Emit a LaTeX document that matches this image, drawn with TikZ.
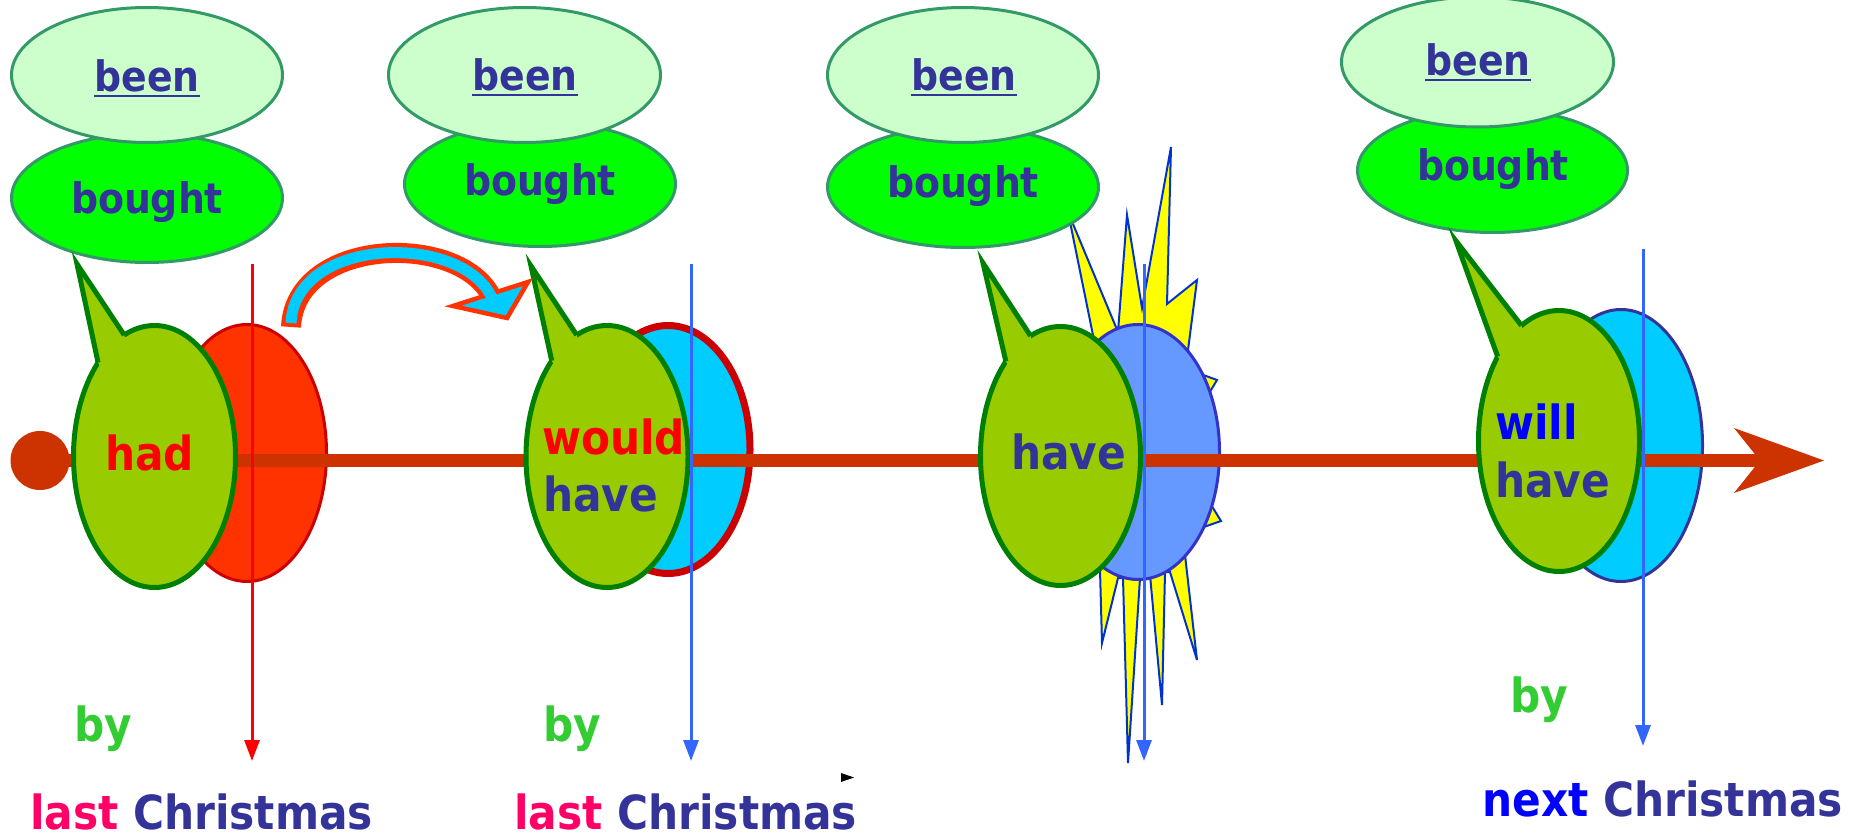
\documentclass[tikz,border=0pt]{standalone}
\usepackage{fontspec}
\usetikzlibrary{shapes.geometric,arrows.meta}
\newfontfamily\tah{DejaVu Sans Condensed Bold}
\definecolor{navy}{HTML}{333399}
\definecolor{sgreen}{HTML}{339966}
\definecolor{beenfill}{HTML}{CCFFCC}
\definecolor{boughtfill}{HTML}{00FF00}
\definecolor{bgreen}{HTML}{008000}
\definecolor{bfill}{HTML}{99CC00}
\definecolor{tlc}{HTML}{CC3300}
\definecolor{redfill}{HTML}{FF3300}
\definecolor{darkred}{HTML}{CC0000}
\definecolor{cyanfill}{HTML}{00CCFF}
\definecolor{bluefill}{HTML}{6699FF}
\definecolor{blueedge}{HTML}{3333CC}
\definecolor{vblue}{HTML}{3366FF}
\definecolor{starY}{HTML}{FFFF00}
\definecolor{starB}{HTML}{0033CC}
\definecolor{bygreen}{HTML}{33CC33}
\definecolor{lastpink}{HTML}{FF0066}
\definecolor{pureblue}{HTML}{0000FF}
\definecolor{purered}{HTML}{FF0000}
\tikzset{
  beenell/.style={ellipse, draw=sgreen, line width=3pt, fill=beenfill, inner sep=0pt, outer sep=0pt},
  boughtell/.style={ellipse, draw=sgreen, line width=3pt, fill=boughtfill, inner sep=0pt, outer sep=0pt},
  bubble/.style={ellipse, draw=bgreen, line width=5pt, fill=bfill, inner sep=0pt, outer sep=0pt, minimum width=162pt, minimum height=262pt},
  backell/.style={ellipse, inner sep=0pt, outer sep=0pt},
  bigtxt/.style={font=\tah\fontsize{47}{47}\selectfont, inner sep=0pt, anchor=base},
  smtxt/.style={font=\tah\fontsize{42}{42}\selectfont, inner sep=0pt, anchor=base, text=navy},
  vline/.style={line width=3pt, -{Triangle[length=21pt,width=15pt]}},
  ulined/.style={navy, line width=2.7pt},
  tailfill/.style={fill=bfill},
  tailline/.style={draw=bgreen, line width=5pt, line join=miter},
}
\newcommand\bubbletail[4]{%
  \fill[tailfill] (#1.#2) -- (#4) -- (#1.#3) -- (#1.center) -- cycle;
  \draw[tailline] (#1.#2) -- (#4) -- (#1.#3);
}
\begin{document}
\begin{tikzpicture}[x=1pt,y=-1pt]
\useasboundingbox (0,0) rectangle (1855,840);

% starburst
\filldraw[fill=starY, draw=starB, line width=2pt, line join=miter]
  (1095,345) -- (1068,212) -- (1118,332) -- (1127,215) -- (1142,308) -- (1171,147)
  -- (1167,304) -- (1197,280) -- (1188,350) -- (1195,372) -- (1217,380) -- (1205,400)
  -- (1205,495) -- (1221,521) -- (1195,530) -- (1185,555) -- (1197,660) -- (1170,572)
  -- (1165,572) -- (1162,705) -- (1150,575) -- (1140,578) -- (1128,763) -- (1123,578)
  -- (1118,578) -- (1102,643) -- (1100,570) -- (1090,500) -- cycle;

% back ellipses
\node[backell, draw=darkred, line width=3pt, fill=redfill, minimum width=159pt, minimum height=257pt] (r1) at (247,453) {};
\node[backell, draw=darkred, line width=7pt, fill=cyanfill, minimum width=164pt, minimum height=248pt] (c2) at (668,449.5) {};
\node[backell, draw=blueedge, line width=3pt, fill=bluefill, minimum width=163pt, minimum height=255pt] (b3) at (1138,452) {};
\node[backell, draw=navy, line width=3pt, fill=cyanfill, minimum width=163pt, minimum height=272pt] (c4) at (1621,445.5) {};

% timeline
\node[circle, fill=tlc, minimum size=59pt, inner sep=0pt, outer sep=0pt] (dot) at (40,460.5) {};
\coordinate (tlnotch) at (1760,460.5);
\coordinate (tltip) at (1824,460.5);
\coordinate (tlup) at (1734,428);
\coordinate (tldn) at (1734,493);
\draw[tlc, line width=13pt] (dot.center) -- (tlnotch);
\fill[tlc] (tltip) -- (tlup) -- (tlnotch) -- (tldn) -- cycle;

% bought / been ellipses
\node[boughtell, minimum width=271pt, minimum height=129pt] (bo1) at (147,198) {};
\node[boughtell, minimum width=271pt, minimum height=125pt] (bo2) at (540,184) {};
\node[boughtell, minimum width=271pt, minimum height=121pt] (bo3) at (963,187) {};
\node[boughtell, minimum width=270pt, minimum height=124pt] (bo4) at (1492.5,170.5) {};
\node[beenell, minimum width=271pt, minimum height=135pt] (be1) at (147,75) {};
\node[beenell, minimum width=272pt, minimum height=135pt] (be2) at (524.5,75) {};
\node[beenell, minimum width=271pt, minimum height=135pt] (be3) at (963,75) {};
\node[beenell, minimum width=272pt, minimum height=130pt] (be4) at (1477.5,62) {};

% speech bubbles
\node[bubble] (h1) at (154.5,456.5) {};
\coordinate (t1) at (77,264);
\bubbletail{h1}{104}{121}{t1}
\node[bubble] (h2) at (607,456.5) {};
\coordinate (t2) at (531,266);
\bubbletail{h2}{104}{120}{t2}
\node[bubble, minimum width=160pt, minimum height=259pt] (h3) at (1060.5,456) {};
\coordinate (t3) at (983,263);
\bubbletail{h3}{104}{120}{t3}
\node[bubble, minimum width=161pt, minimum height=261pt] (h4) at (1559,441) {};
\coordinate (t4) at (1456,241);
\bubbletail{h4}{108.5}{126}{t4}

% curved arrow
\coordinate (caS) at (291,327);
\coordinate (caS2) at (291,323);
\coordinate (caE) at (490,294);
\coordinate (caE2) at (494,301);
\coordinate (ahL) at (453,306);
\coordinate (ahR) at (528,282);
\coordinate (ahT) at (507,318);
\draw[redfill, line width=20pt] (caS) .. controls (295,238) and (455,232) .. (caE);
\filldraw[fill=cyanfill, draw=redfill, line width=4.5pt, line join=miter] (ahL) -- (ahR) -- (ahT) -- cycle;
\draw[cyanfill, line width=11pt] (caS2) .. controls (295,238) and (455,232) .. (caE);
\draw[cyanfill, line width=11pt] (caE) -- (caE2);

% vertical arrows
\coordinate (v1t) at (252,264); \coordinate (v1b) at (252,761);
\coordinate (v2t) at (691,264); \coordinate (v2b) at (691,761);
\coordinate (v3t) at (1144,264); \coordinate (v3b) at (1144,761);
\coordinate (v4t) at (1643,249); \coordinate (v4b) at (1643,746);
\draw[vline, purered] (v1t) -- (v1b);
\draw[vline, vblue] (v2t) -- (v2b);
\draw[vline, vblue] (v3t) -- (v3b);
\draw[vline, vblue] (v4t) -- (v4b);

% been / bought texts
\node[smtxt] (bt1) at (147,92) {been};
\node[smtxt] (bt2) at (525,91) {been};
\node[smtxt] (bt3) at (964,91) {been};
\node[smtxt] (bt4) at (1478,76) {been};
\foreach \n in {bt1,bt2,bt3,bt4}
  \draw[ulined] ([yshift=-4pt]\n.base west) -- ([yshift=-4pt]\n.base east);
\node[smtxt] (ot1) at (147,213) {bought};
\node[smtxt] (ot2) at (540,195) {bought};
\node[smtxt] (ot3) at (963,197) {bought};
\node[smtxt] (ot4) at (1493,180) {bought};

% bubble texts
\node[bigtxt, text=purered] (had) at (149.5,470) {had};
\node[bigtxt, anchor=base west, text=purered] (would) at (542,454) {would};
\node[bigtxt, anchor=base west, text=navy] (have2) at (543,511) {have};
\node[bigtxt, anchor=base west, text=navy] (have3) at (1011,469) {have};
\node[bigtxt, anchor=base west, text=pureblue] (will) at (1495,439) {will};
\node[bigtxt, anchor=base west, text=navy] (have4) at (1495,497) {have};

% by labels
\node[bigtxt, text=bygreen] (by1) at (103.5,741) {by};
\node[bigtxt, text=bygreen] (by2) at (572,741) {by};
\node[bigtxt, text=bygreen] (by3) at (1539.5,712) {by};

% bottom labels
\node[bigtxt, anchor=base west] (lc1) at (30,829) {\textcolor{lastpink}{last} \textcolor{navy}{Christmas}};
\node[bigtxt, anchor=base west] (lc2) at (514,829) {\textcolor{lastpink}{last} \textcolor{navy}{Christmas}};
\node[bigtxt, anchor=base west] (nc) at (1482,816) {\textcolor{pureblue}{next} \textcolor{navy}{Christmas}};

% small black marker
\coordinate (m1) at (841,773);
\coordinate (m2) at (854,777.5);
\coordinate (m3) at (841,782);
\fill[black] (m1) -- (m2) -- (m3) -- cycle;
\end{tikzpicture}
\end{document}
